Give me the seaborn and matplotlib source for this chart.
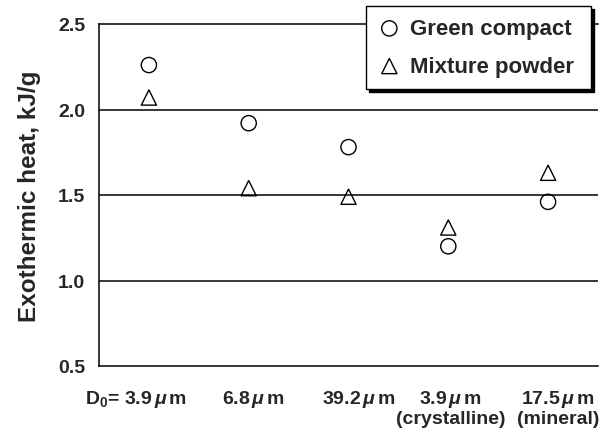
import matplotlib
matplotlib.use("Agg")
import matplotlib.pyplot as plt
import numpy as np
import pandas as pd
import seaborn as sns

# Exothermic heat measured for each Al powder grade
categories = [
    "D$_0$= 3.9$\\,\\mathit{\\mu}\\,$m",
    "6.8$\\,\\mathit{\\mu}\\,$m",
    "39.2$\\,\\mathit{\\mu}\\,$m",
    "3.9$\\,\\mathit{\\mu}\\,$m\n(crystalline)",
    "17.5$\\,\\mathit{\\mu}\\,$m\n(mineral)",
]
green_compact = [2.26, 1.92, 1.78, 1.20, 1.46]
mixture_powder = [2.07, 1.54, 1.49, 1.31, 1.63]
y_ticks = [0.5, 1.0, 1.5, 2.0, 2.5]
y_tick_labels = ["0.5", "1.0", "1.5", "2.0", "2.5"]

df = pd.DataFrame({
    "pos": list(range(len(categories))) * 2,
    "heat": green_compact + mixture_powder,
    "sample": ["Green compact"] * len(categories) + ["Mixture powder"] * len(categories),
})

sns.set_theme(style="white")
plt.rcParams["font.family"] = ["Liberation Sans", "DejaVu Sans"]
plt.rcParams["font.weight"] = "bold"
plt.rcParams["mathtext.fontset"] = "custom"
plt.rcParams["mathtext.rm"] = "Liberation Sans:bold"
plt.rcParams["mathtext.bf"] = "Liberation Sans:bold"
plt.rcParams["mathtext.it"] = "Liberation Sans:bold:italic"
plt.rcParams["mathtext.default"] = "rm"

fig = plt.figure(figsize=(6.08, 4.35), dpi=100)
ax = fig.add_axes([99 / 608, 1 - 367 / 435, 499 / 608, 342 / 435])

for name, marker in [("Green compact", "o"), ("Mixture powder", "^")]:
    sub = df[df["sample"] == name]
    sns.scatterplot(data=sub, x="pos", y="heat", ax=ax, marker=marker, s=120,
                    color="black", facecolor="none", edgecolor="black",
                    linewidth=1.0, label=name, zorder=3, clip_on=False)

ax.set_xlim(-0.5, len(categories) - 0.5)
ax.set_ylim(0.5, 2.5)

# horizontal gridlines
for yv in y_ticks[1:-1]:
    ax.axhline(yv, color="black", lw=1.1, zorder=1)

ax.set_yticks(y_ticks)
ax.set_yticklabels(y_tick_labels, fontsize=14, fontweight="bold")
ax.tick_params(axis="y", length=0, pad=10)

# category labels, nudged as in the layout
label_shift = [-0.13, 0.05, 0.10, 0.02, 0.10]
ax.set_xticks([i + s for i, s in enumerate(label_shift)])
ax.set_xticklabels(categories, fontsize=14, fontweight="bold", linespacing=1.05, va="top")
ax.tick_params(axis="x", which="major", length=0, pad=16)
ax.set_xticks(np.arange(0.5, len(categories), 1.0), minor=True)
ax.tick_params(axis="x", which="minor", direction="in", length=5, width=1, color="black")

ax.set_xlabel("")
ax.set_ylabel("Exothermic heat, kJ/g", fontsize=17.5, fontweight="bold", labelpad=12)

for side in ["left", "bottom", "top"]:
    ax.spines[side].set_visible(True)
    ax.spines[side].set_color("black")
    ax.spines[side].set_linewidth(1.1)
ax.spines["right"].set_visible(False)

leg = ax.legend(loc="upper left",
                bbox_to_anchor=(366 / 608, 1 - 92 / 435, 225 / 608, 85 / 435),
                bbox_transform=fig.transFigure, mode="expand",
                frameon=True, fancybox=False,
                edgecolor="black", framealpha=1, borderaxespad=0, borderpad=0.55,
                handlelength=1.0, handletextpad=0.45, labelspacing=0.75,
                prop={"size": 16, "weight": "bold"},
                shadow={"color": "black", "alpha": 1})
leg.get_frame().set_linewidth(1.0)
leg.set_zorder(5)

fig.savefig("out.png", dpi=100)
